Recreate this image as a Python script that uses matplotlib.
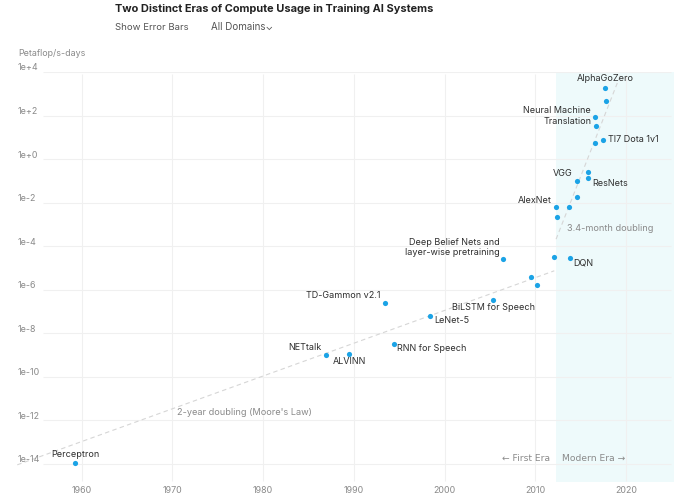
import numpy as np
import matplotlib
matplotlib.use("Agg")
import matplotlib.pyplot as plt

plt.rcParams['font.family'] = ['Inter', 'DejaVu Sans']

# systems: year of publication, compute in petaflop/s-days
years = [1959.3, 1986.9, 1989.5, 1994.4, 1993.4, 1998.4, 2005.4, 2006.4,
         2009.55, 2010.2, 2012.1, 2013.8, 2012.3, 2012.4, 2013.7, 2014.6,
         2014.6, 2015.8, 2015.8, 2016.6, 2017.5, 2016.6, 2016.7, 2017.8, 2017.7]
compute = [1.1e-14, 1.05e-9, 1.1e-9, 3.2e-9, 2.5e-7, 6.3e-8, 3.4e-7, 2.5e-5,
           3.7e-6, 1.6e-6, 3.2e-5, 2.9e-5, 6.2e-3, 2.2e-3, 6.6e-3, 1.9e-2,
           0.10, 0.13, 0.26, 5.5, 7.2, 85, 34, 450, 1900]
names = ["Perceptron", "NETtalk", "ALVINN", "RNN for Speech", "TD-Gammon v2.1",
         "LeNet-5", "BiLSTM for Speech", "Deep Belief Nets and\nlayer-wise pretraining",
         "", "", "", "DQN", "AlexNet", "", "", "",
         "VGG", "ResNets", "", "", "TI7 Dota 1v1", "Neural Machine\nTranslation",
         "", "", "AlphaGoZero"]
# label placement: (dx px, dy px, ha)
label_pos = {
    "Perceptron": (0, 9.5, "center"),
    "NETtalk": (-4, 8.5, "right"),
    "ALVINN": (0, -6, "center"),
    "RNN for Speech": (3.5, -3.7, "left"),
    "TD-Gammon v2.1": (-4, 8, "right"),
    "LeNet-5": (4, -4, "left"),
    "BiLSTM for Speech": (0, -6.5, "center"),
    "Deep Belief Nets and\nlayer-wise pretraining": (-3, 13, "right"),
    "DQN": (4, -4, "left"),
    "AlexNet": (-4, 8, "right"),
    "VGG": (-4, 8.5, "right"),
    "ResNets": (4, -4.5, "left"),
    "TI7 Dota 1v1": (5, 2, "left"),
    "Neural Machine\nTranslation": (-4, 2, "right"),
    "AlphaGoZero": (0, 10.5, "center"),
}

# trend lines: start year, start compute, end year, doubling time (years)
moore = (1952.9, 9.1e-15, 2012.1, 2.0)
modern = (2012.3, 2.1e-4, 2019.4, 3.4 / 12)

ytick_exp = [4, 2, 0, -2, -4, -6, -8, -10, -12, -14]
xtick_years = [1960, 1970, 1980, 1990, 2000, 2010, 2020]

blue = "#1ba3e6"
grid_c = "#f0f0f0"
grey_txt = "#8a8a8a"
dark_txt = "#2e2e2e"

fig = plt.figure(figsize=(6.8, 5.02), dpi=100)
ax = fig.add_axes([17 / 680, 1 - 483 / 502, 657 / 680, 410 / 502])
ax.set_yscale("log")
ax.set_xlim(1952.87, 2025.3)
ax.set_ylim(10 ** -14.83, 1e4)
for s in ax.spines.values():
    s.set_visible(False)
ax.tick_params(left=False, bottom=False, labelleft=False, labelbottom=False)

# modern era shade
ax.axvspan(2012.3, 2025.3, color="#eefafb", zorder=0, lw=0)

# gridlines
for e in ytick_exp:
    ax.hlines(10.0 ** e, 1955.73, 2025.0, color=grid_c, lw=0.8, zorder=1)
    ax.annotate(f"1e{e:+d}", (0.0015, 10.0 ** e), xycoords=("axes fraction", "data"),
                xytext=(0, 2.5), textcoords="offset pixels", ha="left", va="baseline",
                fontsize=6.4, color=grey_txt)
for yr in xtick_years:
    ax.vlines(yr, 10 ** -14.78, 10 ** 3.9, color=grid_c, lw=0.8, zorder=1)
    ax.annotate(str(yr), (yr, 0), xycoords=("data", "axes fraction"),
                xytext=(0, -8), textcoords="offset pixels", ha="center", va="center",
                fontsize=6.4, color=grey_txt, annotation_clip=False)

# trend lines
for y0, c0, y1, dbl in (moore, modern):
    xs = np.array([y0, y1])
    ys = c0 * 2 ** ((xs - y0) / dbl)
    ax.plot(xs, ys, color="#d6d6d6", lw=0.8, dashes=(4, 3), zorder=2)

ax.scatter(years, compute, s=14, color=blue, zorder=3, lw=0)

for x, y, n in zip(years, compute, names):
    if not n:
        continue
    dx, dy, ha = label_pos[n]
    ax.annotate(n, (x, y), xytext=(dx, dy), textcoords="offset pixels",
                ha=ha, va="center", multialignment=ha,
                fontsize=6.5, color=dark_txt, linespacing=1.2, annotation_clip=False)

# trend labels
ax.text(1970.5, 10 ** -11.6, "2-year doubling (Moore's Law)", fontsize=6.6,
        color=grey_txt, ha="left", va="center")
ax.text(2013.5, 10 ** -3.12, "3.4-month doubling", fontsize=6.6,
        color=grey_txt, ha="left", va="center")
ax.text(2011.6, 10 ** -13.7, "\u2190 First Era", fontsize=6.6, color=grey_txt,
        ha="right", va="center", family=["DejaVu Sans"])
ax.text(2013.0, 10 ** -13.7, "Modern Era \u2192", fontsize=6.6, color=grey_txt,
        ha="left", va="center", family=["DejaVu Sans"])

# header
fig.text(115 / 680, 1 - 9 / 502, "Two Distinct Eras of Compute Usage in Training AI Systems",
         fontsize=7.9, fontweight="bold", color="#222222", va="center")
fig.text(115 / 680, 1 - 27 / 502, "Show Error Bars", fontsize=6.9, color="#555555", va="center")
fig.text(211 / 680, 1 - 27 / 502, "All Domains\u2304", fontsize=7.0, color="#555555", va="center")
fig.text(18 / 680, 1 - 54 / 502, "Petaflop/s-days", fontsize=6.4, color=grey_txt, va="center")

fig.savefig("out.png", dpi=100, facecolor="white")
